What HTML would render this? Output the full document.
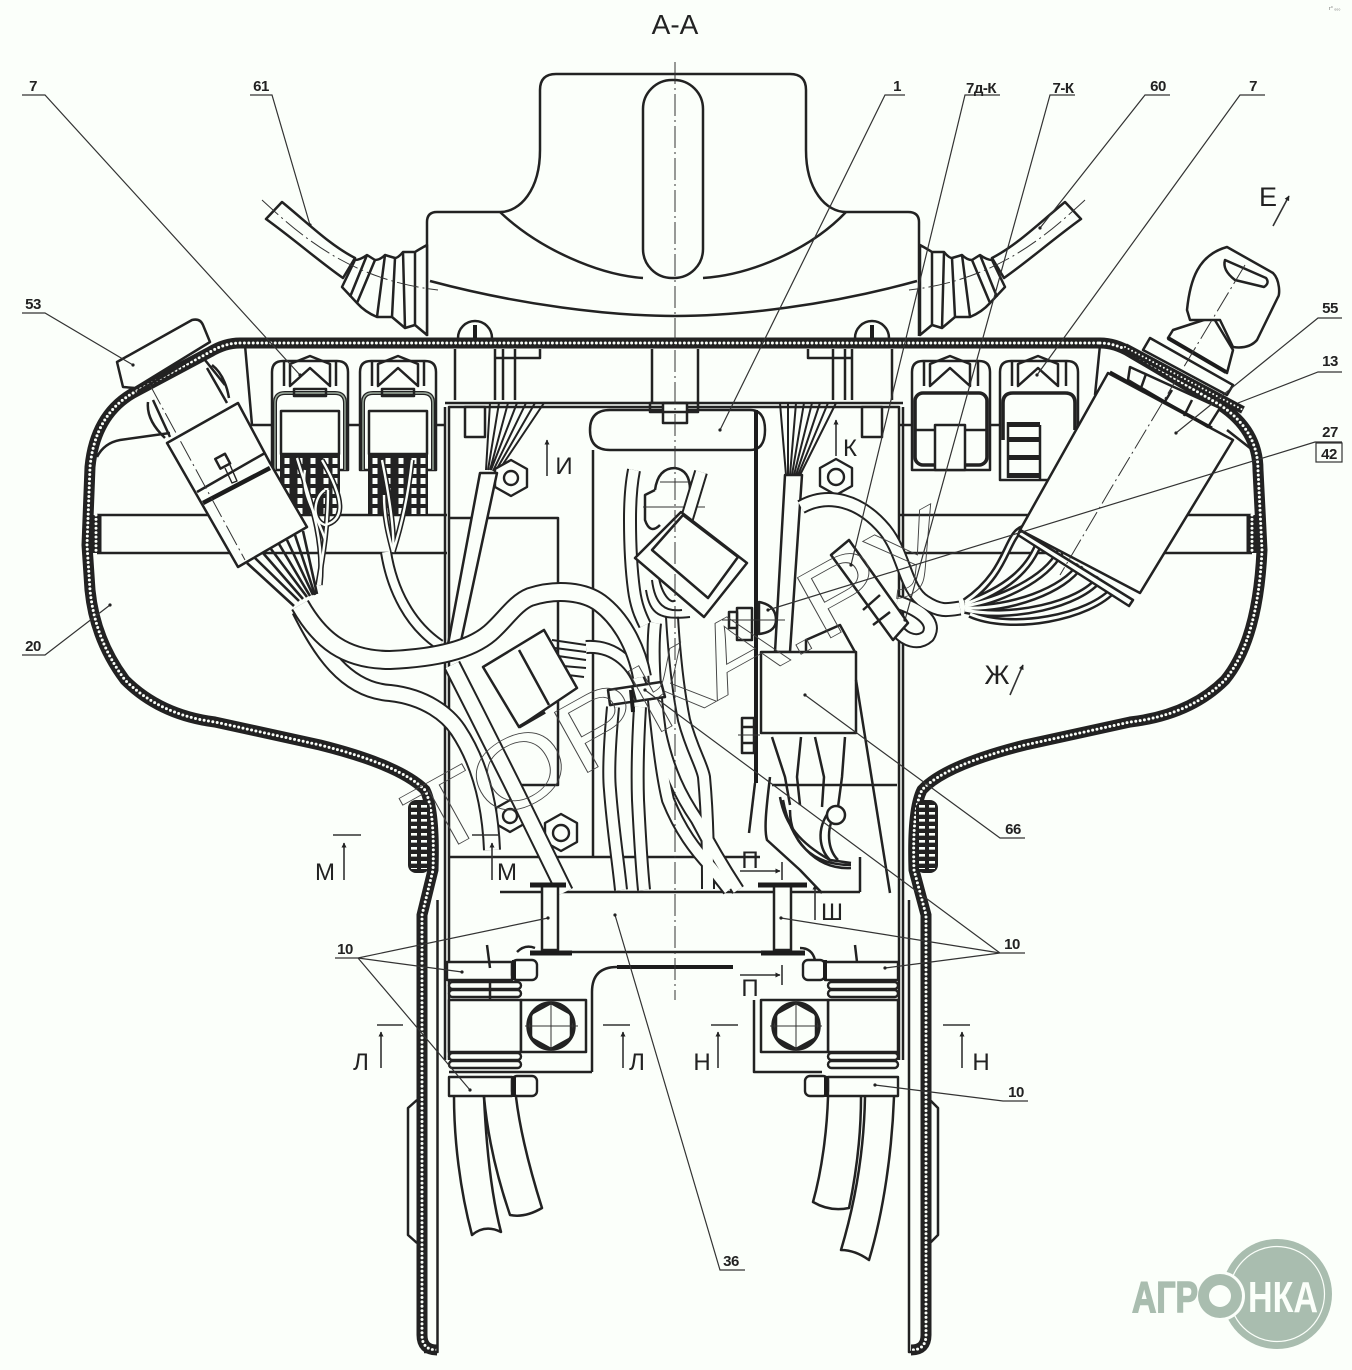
<!DOCTYPE html>
<html><head><meta charset="utf-8"><title>А-А</title>
<style>
html,body{margin:0;padding:0;background:#fbfffa}
svg{display:block}
.l{fill:none;stroke:#222;stroke-width:2.5;stroke-linejoin:round}
.f{fill:#fbfffa;stroke:#222;stroke-width:2.5;stroke-linejoin:round}
.t{fill:none;stroke:#333;stroke-width:1}
.c{fill:none;stroke:#333;stroke-width:1;stroke-dasharray:22 4 2 4}
.k{fill:none;stroke:#1c1c1c;stroke-width:4}
.b{fill:#222;stroke:none}
text{font-family:"Liberation Sans",sans-serif;fill:#222}
.n{font-size:15px;text-anchor:middle;font-weight:bold;letter-spacing:-.5px}
.s{font-size:27px;text-anchor:middle}
.w1{fill:none;stroke:#222;stroke-linecap:butt;stroke-linejoin:round}
.w2{fill:none;stroke:#fbfffa;stroke-linecap:butt;stroke-linejoin:round}
</style></head><body>
<svg xmlns="http://www.w3.org/2000/svg" width="1352" height="1370" viewBox="0 0 1352 1370">
<defs>
<marker id="ah" viewBox="0 0 10 10" refX="9" refY="5" markerWidth="9" markerHeight="5" orient="auto" markerUnits="userSpaceOnUse"><path d="M0,0 L10,5 L0,10 Z" fill="#222"/></marker>
<path id="housing" d="M240,343 L1100,343 M240,343 Q225,343 210,352 L133,393 Q95,415 90,467 L87,545 L90,590 Q95,640 125,680 Q160,715 215,722 L320,745 Q400,765 425,790 Q435,810 433,870 L422,915 L422,1335 Q422,1350 437,1350 M1100,343 Q1115,343 1130,352 L1220,405 Q1258,430 1258,470 L1262,550 Q1258,640 1225,680 Q1190,715 1130,722 L1025,745 Q945,765 922,790 Q912,810 914,870 L926,915 L926,1335 Q926,1350 911,1350"/>
<g id="bell">
<path class="f" d="M282,202 C310,225 330,245 355,258 L343,278 C320,262 295,240 266,219 Z"/>
<path class="f" d="M427,245 Q418,250 415,252 L403,252 Q398,258 395,258 L385,255 Q380,260 375,260 L367,255 Q360,260 355,260 L342,287 L357,303 Q365,312 377,317 L392,317 L405,328 L415,325 L427,335 Z"/>
<path class="l" d="M367,255 L350,297 M375,260 L357,303 M385,255 L377,317 M395,258 L392,317 M403,252 L405,328 M415,252 L415,325"/>
<path class="c" d="M262,200 C300,235 350,280 438,290"/>
</g>
<g id="conn">
<path class="f" d="M272,372 Q272,361 283,361 L337,361 Q348,361 348,372 L348,470 L272,470 Z"/>
<path class="l" d="M284,361 L284,386 M336,361 L336,386 M290,386 L290,364 L310,356 L330,364 L330,386 L310,368 Z"/>
<path d="M275,470 L275,403 Q275,393 285,393 L335,393 Q345,393 345,403 L345,470" fill="none" stroke="#222" stroke-width="4"/>
<path d="M275,470 L275,403 Q275,393 285,393 L335,393 Q345,393 345,403 L345,470" fill="none" stroke="#9fae9f" stroke-width="1.4"/>
<rect class="l" x="294" y="389" width="32" height="7" fill="#fbfffa"/>
<rect class="f" x="281" y="411" width="58" height="43"/>
<rect x="280" y="454" width="60" height="62" fill="#222"/>
<path stroke="#fbfffa" stroke-width="5" stroke-dasharray="6 4" d="M287,458V516M300,458V516M313,458V516M326,458V516M335,458V516" fill="none"/>
</g>
<path id="wa" d="M300,605 C320,640 345,660 390,660 C436,658 470,650 490,633 C505,620 515,603 530,597 C558,588 585,592 600,603 C620,618 636,645 642,677"/>
<g id="wb"><path d="M300,610 C320,650 345,690 390,693 C426,697 448,715 458,730 C478,760 490,800 492,850"/></g>
<g id="wc"><path d="M386,552 C392,590 410,625 440,645"/></g>
<g id="wd"><path d="M452,665 C470,700 500,760 510,780 C530,820 550,862 565,892"/></g>
<g id="we"><path d="M613,707 C610,740 608,770 610,790 C613,830 618,860 621,890"/><path d="M640,707 C638,740 637,770 638,800 C640,840 642,870 644,890"/><path d="M655,623 C652,650 654,690 660,733 C668,770 680,795 697,820 C710,845 725,870 738,890"/><path d="M654,700 C658,740 662,775 668,800 C680,830 695,850 711,867 L729,890"/><path d="M672,617 C674,650 678,690 684,720 C692,750 702,765 704,777 C708,820 708,860 708,889"/><path d="M634,470 C630,490 630,510 630,520 C630,550 632,575 634,590 C636,605 640,615 645,625"/><path d="M701,472 L685,525"/><path d="M586,647 C615,645 635,665 642,690"/></g>
<g id="wf"><path d="M801,507 C828,492 860,500 885,530 C905,555 905,590 925,602 C940,612 948,610 960,608"/><path d="M897,602 C915,608 938,620 928,636 C918,645 905,640 897,630"/></g>
<g id="wfan"><path d="M1027,528 C1005,530 1012,570 965,602"/><path d="M1040,540 C1030,570 1005,590 965,604"/><path d="M1060,552 C1045,580 1000,600 965,606"/><path d="M1080,565 C1065,590 1010,610 965,608"/><path d="M1100,578 C1080,605 1010,620 965,610"/><path d="M1115,588 C1090,618 1010,632 970,614"/></g>
</defs>
<rect width="1352" height="1370" fill="#fbfffa"/>

<!-- cap -->
<path class="l" d="M427,336 L427,222 Q427,212 437,212 L500,212 C520,212 540,190 540,150 L540,90 Q540,74 556,74 L790,74 Q806,74 806,90 L806,150 C806,190 826,212 846,212 L908,212 Q919,212 919,222 L919,336"/>
<path class="l" d="M500,212 C540,250 600,275 643,278 M846,212 C810,250 750,275 703,278"/>
<path class="l" d="M430,281 C520,305 610,316 675,316 C740,316 830,305 917,281"/>
<rect class="l" x="643" y="80" width="60" height="198" rx="29" fill="#fbfffa"/>
<use href="#bell"/>
<use href="#bell" transform="translate(1347,0) scale(-1,1)"/>

<!-- cross strips -->
<path class="l" d="M97,515 H447 M97,553 H447 M900,515 H1252 M900,553 H1252"/>
<path class="l" d="M97,457 Q104,443 120,440 L170,433"/>
<path class="l" d="M1227,430 L1250,448"/>
<path class="l" d="M245,345 L252,425 L272,425 M1100,345 L1095,395 M348,425 H360 M436,425 H446 M990,425 H1000 M900,425 H912"/>

<!-- housing -->
<use href="#housing" fill="none" stroke="#222" stroke-width="11"/>
<use href="#housing" fill="none" stroke="#fbfffa" stroke-width="3" stroke-linecap="round" stroke-dasharray="0 4.4"/>
<path d="M96,515 V553 M1252,515 V553" stroke="#222" stroke-width="11" fill="none"/>
<path d="M96,515 V553 M1252,515 V553" stroke="#fbfffa" stroke-width="3" stroke-linecap="round" stroke-dasharray="0 4.4" fill="none"/>
<path class="l" d="M437.5,900 V1352 L424,1352 M909,900 V1352 L920,1352"/>
<path class="l" d="M417,1100 L408,1108 V1235 L417,1243 M930,1100 L938,1108 V1235 L930,1243"/>

<!-- inner box -->
<path class="l" d="M449,1060 V407 H899 V1060" stroke-width="2"/>
<path class="l" d="M445,407 V1060 M903,407 V1060 M445,403 H903"/>
<path class="l" d="M449,518 H558 V785 H505 M772,785 H897"/>
<path class="l" d="M593,450 V857 M590,430 Q590,410 610,410 H750 Q765,410 765,430 Q765,450 750,450 H610 Q590,450 590,430"/>
<path class="k" d="M756,410 V783"/>
<path class="l" d="M755,783 L749,833" />
<path class="l" d="M449,857 H760 M500,892 H860 M860,857 V892"/>

<!-- top mounts -->
<path class="l" d="M455,349 V400 M495,349 V400 M503,349 V400 M515,349 V400 M495,358 H540 V349 M652,349 V403 M698,349 V403 M852,349 V400 M892,349 V400 M845,349 V400 M833,349 V400 M852,358 H808 V349"/>
<path class="l" d="M458,338 A17,17 0 0 1 492,338 M855,338 A17,17 0 0 1 889,338"/>
<path class="k" d="M475,325 V338 M872,325 V338"/>
<rect class="f" x="465" y="407" width="20" height="30"/>
<rect class="f" x="663" y="403" width="24" height="20"/>
<rect class="f" x="862" y="407" width="20" height="30"/>
<rect class="l" x="650" y="403" width="48" height="9"/>

<!-- fans -->
<g class="l" style="stroke-width:2">
<path d="M544,403 L497,473 M535,403 L495,472 M526,403 L493,471 M517,403 L491,470 M508,403 L490,470 M499,403 L488,470 M490,403 L486,470"/>
<path d="M836,403 L800,475 M828,403 L798,475 M820,403 L796,475 M812,403 L794,475 M804,403 L792,475 M796,403 L790,475 M788,403 L788,475 M780,403 L786,475"/>
</g>

<!-- nuts -->
<g class="f" style="stroke-width:2.4">
<polygon points="511,460 527,469 527,487 511,496 495,487 495,469"/><circle cx="511" cy="478" r="7"/>
<polygon points="836,459 852,468 852,486 836,495 820,486 820,468"/><circle cx="836" cy="477" r="8"/>
<polygon points="510,800 524,808 524,824 510,832 496,824 496,808"/><circle cx="510" cy="816" r="7"/>
<polygon points="561,814 577,823 577,842 561,851 545,842 545,823"/><circle cx="561" cy="833" r="8"/>
</g>

<!-- keyhole -->
<path class="l" d="M655,490 Q658,468 675,468 Q690,470 690,490 L690,525 M655,490 L645,495 V520 Q650,535 660,525"/>
<path class="t" d="M643,507 H705 M660,482 H692"/>

<!-- wires -->
<use href="#wfan" class="w1" stroke-width="8"/>
<use href="#wfan" class="w2" stroke-width="3"/>
<path class="f" d="M785,475 L802,475 L790,652 L775,652 Z"/>
<path class="l" d="M770,777 C766,810 764,830 767,840 L800,870 L822,893 M780,797 C785,825 800,843 830,860 L851,863"/>
<use href="#wf" class="w1" stroke-width="15"/>
<use href="#wf" class="w2" stroke-width="11"/>
<use href="#we" class="w1" stroke-width="14"/>
<use href="#we" class="w2" stroke-width="10"/>
<path class="f" d="M480,473 L497,473 L458,655 L446,655 Z"/>
<use href="#wd" class="w1" stroke-width="18"/>
<use href="#wd" class="w2" stroke-width="14"/>
<use href="#wc" class="w1" stroke-width="12"/>
<use href="#wc" class="w2" stroke-width="8"/>
<use href="#wb" class="w1" stroke-width="18"/>
<use href="#wb" class="w2" stroke-width="14"/>
<use href="#wa" class="w1" stroke-width="20"/>
<use href="#wa" class="w2" stroke-width="16"/>

<!-- connectors -->
<use href="#conn"/>
<use href="#conn" x="88"/>
<g transform="translate(640,0)">
<path class="f" d="M272,372 Q272,361 283,361 L339,361 Q350,361 350,372 L350,470 L272,470 Z"/>
<path class="l" d="M284,361 L284,386 M338,361 L338,386 M290,386 L290,364 L310,356 L330,364 L330,386 L310,368 Z"/>
<rect x="275" y="393" width="72" height="72" rx="8" fill="none" stroke="#222" stroke-width="3.6"/>
<rect class="f" x="295" y="425" width="30" height="45"/>
<path class="l" d="M275,430 H295 M325,430 H347"/>
</g>
<g transform="translate(728,0)">
<path class="f" d="M272,372 Q272,361 283,361 L339,361 Q350,361 350,372 L350,440 L320,480 L272,480 Z"/>
<path class="l" d="M284,361 L284,386 M338,361 L338,386 M290,386 L290,364 L310,356 L330,364 L330,386 L310,368 Z"/>
<path d="M275,440 V403 Q275,393 285,393 L337,393 Q347,393 347,403 V430" fill="none" stroke="#222" stroke-width="3.6"/>
<rect x="280" y="422" width="32" height="5" fill="#222"/><rect x="280" y="437" width="32" height="5" fill="#222"/><rect x="280" y="455" width="32" height="5" fill="#222"/><rect x="280" y="473" width="32" height="5" fill="#222"/>
<path class="l" d="M312,425 V480 M280,422 V478"/>
</g>

<!-- wires from connectors left -->
<g fill="none" stroke="#222" stroke-width="5.5"><path d="M297,458 C310,500 325,540 320,585"/><path d="M322,460 C345,500 345,520 325,525 C310,520 315,495 325,490"/><path d="M328,490 C328,530 322,560 318,585"/><path d="M305,470 C300,495 320,520 325,540"/><path d="M382,460 C388,490 395,530 393,552"/><path d="M412,460 C408,500 400,530 393,552"/><path d="M384,495 C384,520 390,540 393,552"/></g>
<g fill="none" stroke="#fbfffa" stroke-width="2.4"><path d="M297,458 C310,500 325,540 320,585"/><path d="M322,460 C345,500 345,520 325,525 C310,520 315,495 325,490"/><path d="M328,490 C328,530 322,560 318,585"/><path d="M305,470 C300,495 320,520 325,540"/><path d="M382,460 C388,490 395,530 393,552"/><path d="M412,460 C408,500 400,530 393,552"/><path d="M384,495 C384,520 390,540 393,552"/></g>
<g class="l" style="stroke-width:2.6"><path d="M247,563 L294,606 M255,558 L299,601 M263,553 L303,599 M271,549 L307,597 M279,544 L310,596 M287,540 L313,595 M295,535 L315,595 M303,531 L317,594"/></g>

<!-- left switch -->
<path class="l" d="M153,400 L170,437 M207,368 L227,403"/>
<path class="l" d="M148,402 Q146,420 165,438 M212,365 Q225,375 229,398 M205,360 L225,385"/>
<path class="f" d="M117,362 L192,320 Q200,318 203,325 L210,342 L135,388 L123,387 Z"/>
<path class="l" d="M137,392 L212,347"/>
<path class="f" d="M167,443 L238,403 L270,463 L307,527 L238,567 Z"/>
<path class="l" d="M197,492 L265,453"/>
<path class="k" d="M203,503 L270,468" style="stroke-width:4.5"/>
<rect class="l" x="217" y="456" width="11" height="11" transform="rotate(-28 222 461)"/>
<path class="l" d="M225,468 L232,483 L237,481 L230,465" style="stroke-width:1.4"/>
<path class="c" d="M150,385 L245,560"/>

<!-- right switch -->
<path class="f" d="M1108,373 L1233,440 L1140,593 L1020,530 Z"/>
<path class="f" d="M1020,530 L1133,600 L1129,606 L1018,535 Z"/>
<path class="f" d="M1130,367 L1128,380 L1208,427 L1220,408 Z"/>
<path class="l" d="M1146,374 L1141,388 M1172,390 L1164,403 M1192,400 L1184,416" />
<path class="k" d="M1110,372 L1212,428" style="stroke-width:3"/>
<path d="M1125,347 L1243,410" stroke="#222" stroke-width="8" fill="none"/>
<path d="M1125,347 L1243,410" stroke="#fbfffa" stroke-width="2" stroke-linecap="round" stroke-dasharray="0 4" fill="none"/>
<path class="f" d="M1150,338 L1233,385 L1227,395 L1143,350 Z"/>
<path class="f" d="M1173,330 L1213,317 L1233,350 L1227,373 L1168,338 Z"/>
<path class="k" d="M1168,338 L1226,372"/>
<path class="f" d="M1187,310 C1190,280 1198,255 1227,247 L1273,273 C1280,280 1280,295 1278,297 L1257,340 C1250,348 1240,348 1233,347 L1220,320 L1190,320 Z"/>
<path class="l" d="M1225,260 L1266,278 Q1270,283 1264,287 L1235,280 Q1222,270 1225,260 Z"/>
<path class="c" d="M1245,265 L1110,490 L1060,575"/>

<!-- small connector right -->
<path class="f" d="M831,555 L849,540 L908,623 L893,640 Z"/>
<path class="l" d="M880,595 L863,610 M890,612 L873,625"/>

<!-- connector 2 -->
<g class="l" style="stroke-width:2"><path d="M646,590 C650,615 660,620 690,617 M652,580 C655,605 665,612 682,610 M658,570 C660,595 672,605 675,600"/></g>
<path class="f" d="M635,558 L681,512 L747,563 L704,617 Z"/>
<path class="l" d="M652,550 L683,515 L738,557 L708,598 Z"/>
<!-- connector 1 -->
<g class="l" style="stroke-width:2"><path d="M552,640 L586,645 M555,648 L586,652 M558,656 L586,660 M563,666 L586,668 M568,675 L584,677"/></g>
<path class="f" d="M483,667 L544,630 L577,688 L519,727 Z"/>
<path class="l" d="M519,650 L549,705"/>
<path d="M519,727 L545,712" stroke="#222" stroke-width="3.5"/>
<!-- clip -->
<path class="f" d="M608,690 L661,682 L665,697 L610,705 Z"/>
<path class="l" d="M632,686 L636,702"/>
<path class="k" d="M631,690 L633,712"/>

<!-- relay -->
<path class="f" d="M761,652 H856 V733 H761 Z"/>
<path class="l" d="M806,652 L806,640 L840,625 L855,652"/>
<path class="l" d="M772,737 L785,777 L790,805 M801,737 L797,777 L800,805 M815,737 L824,777 L822,807 M845,737 L842,777 L838,807"/>
<path class="l" d="M856,680 L890,893"/>
<path class="l" d="M790,810 C790,840 810,865 851,865 M783,800 C790,840 815,870 851,868 M830,810 C815,830 820,850 830,860 M836,812 C825,830 828,850 838,860"/>
<circle class="f" cx="836" cy="815" r="9"/>

<!-- bolts on plate -->
<path class="f" d="M737,608 H752 V640 H737 Z"/>
<path class="f" d="M729,612 H737 V628 H729 Z"/>
<path class="f" d="M759,602 Q776,605 776,620 Q776,632 759,634 Z"/>
<path class="f" d="M742,718 H754 V753 H742 Z"/>
<path class="l" d="M742,727 H754 M742,743 H754"/>
<path class="t" d="M722,620 H785 M738,735 H760"/>

<!-- knobs -->
<g id="kn"><rect x="408" y="800" width="22" height="73" rx="8" fill="#222"/><path stroke="#fbfffa" stroke-width="6" stroke-dasharray="2.6 4.4" d="M414,805V869M424,805V869" fill="none"/></g>
<use href="#kn" transform="translate(1346,0) scale(-1,1)"/>

<!-- bottom bracket -->
<path class="l" d="M560,952 H775 M592,1072 V992 Q592,967 617,967 H620"/>
<path class="k" d="M617,967 H733"/>
<path class="l" d="M754,1000 V1072 H822 M449,1072 H592"/>
<path class="f" d="M542,885 H558 V950 H542 Z"/>
<path class="f" d="M774,885 H791 V950 H774 Z"/>
<path class="k" d="M530,885 H566 M758,885 H807 M530,953 H572 M761,953 H805" style="stroke-width:5"/>
<path class="l" d="M517,952 Q525,944 535,948 M815,960 Q812,948 800,948"/>
<path class="f" d="M449,1000 H521 V1052 H449 Z"/><rect class="f" x="521" y="1000" width="65" height="52"/>
<path class="f" d="M828,1000 H898 V1052 H828 Z"/><rect class="f" x="761" y="1000" width="67" height="52"/>
<circle cx="551" cy="1026" r="23" fill="none" stroke="#222" stroke-width="3.5"/>
<circle cx="796" cy="1026" r="23" fill="none" stroke="#222" stroke-width="3.5"/>
<polygon class="l" points="551,1003 571,1014 571,1038 551,1049 531,1038 531,1014"/>
<polygon class="l" points="796,1003 816,1014 816,1038 796,1049 776,1038 776,1014"/>
<path class="t" d="M525,1026 H578 M551,1000 V1052 M770,1026 H822 M796,1000 V1052"/>
<g class="f" style="stroke-width:2.4">
<rect x="449" y="982" width="72" height="7" rx="3.5"/><rect x="449" y="990" width="72" height="7" rx="3.5"/>
<rect x="449" y="1053" width="72" height="7" rx="3.5"/><rect x="449" y="1061" width="72" height="7" rx="3.5"/>
<rect x="828" y="982" width="70" height="7" rx="3.5"/><rect x="828" y="990" width="70" height="7" rx="3.5"/>
<rect x="828" y="1053" width="70" height="7" rx="3.5"/><rect x="828" y="1061" width="70" height="7" rx="3.5"/>
<rect x="447" y="962" width="65" height="18"/><rect x="512" y="960" width="25" height="20" rx="5"/>
<rect x="825" y="962" width="73" height="18"/><rect x="803" y="960" width="22" height="20" rx="5"/>
<rect x="449" y="1077" width="63" height="19"/><rect x="512" y="1076" width="25" height="20" rx="5"/>
<rect x="828" y="1077" width="70" height="19"/><rect x="805" y="1076" width="23" height="20" rx="5"/>
</g>
<path class="l" d="M490,968 L487,945 M857,962 L855,945 M490,1000 V982"/>
<path class="k" d="M514,960 V980 M514,1076 V1097 M825,960 V980 M826,1076 V1097" style="stroke-width:4"/>

<!-- lower cables -->
<path class="l" d="M454,1096 C454,1140 460,1190 472,1235 Q485,1224 501,1232 C490,1190 486,1140 484,1097"/>
<path class="l" d="M484,1097 C488,1140 498,1180 510,1215 Q525,1218 542,1208 C530,1170 520,1130 516,1097"/>
<path class="l" d="M828,1097 C827,1130 822,1170 813,1202 Q830,1212 849,1208 C857,1170 861,1130 861,1097"/>
<path class="l" d="M865,1097 C864,1150 856,1200 841,1250 Q855,1250 869,1260 C884,1210 892,1150 894,1097"/>

<!-- centerline -->
<path class="c" d="M675,62 V1000"/>

<!-- watermark -->
<text transform="translate(430,860) rotate(-29)" font-size="100" textLength="610" lengthAdjust="spacingAndGlyphs" style="fill:none;stroke:#444;stroke-width:.8">ТОРКА.РУ</text>

<!-- leaders -->
<g class="t" style="stroke-width:1.2">
<path d="M22,95 H45 L300,375"/>
<path d="M250,95 H272 L310,225"/>
<path d="M905,95 H885 L720,430"/>
<path d="M1000,95 H965 L851,565"/>
<path d="M1075,95 H1050 L905,620"/>
<path d="M1170,95 H1145 L1040,228"/>
<path d="M1265,95 H1240 L1037,375"/>
<path d="M22,313 H45 L133,365"/>
<path d="M1342,318 H1318 L1176,433"/>
<path d="M1342,372 H1318 L1238,403"/>
<path d="M1342,442 H1315 L768,610"/>
<path d="M22,655 H45 L110,605"/>
<path d="M1025,838 H1000 L805,695"/>
<path d="M1025,953 H1000 L781,918 M1000,953 L885,968 M1000,953 L645,690"/>
<path d="M335,958 H358 L548,918 M358,958 L462,972 M358,958 L470,1090"/>
<path d="M1028,1101 H1003 L875,1085"/>
<path d="M745,1270 H720 L615,915"/>
</g>
<g fill="#222"><circle cx="300" cy="375" r="1.6"/><circle cx="310" cy="225" r="1.6"/><circle cx="720" cy="430" r="1.6"/><circle cx="851" cy="565" r="1.6"/><circle cx="905" cy="620" r="1.6"/><circle cx="1040" cy="228" r="1.6"/><circle cx="1037" cy="375" r="1.6"/><circle cx="133" cy="365" r="1.6"/><circle cx="1176" cy="433" r="1.6"/><circle cx="768" cy="610" r="1.6"/><circle cx="110" cy="605" r="1.6"/><circle cx="805" cy="695" r="1.6"/><circle cx="781" cy="918" r="1.6"/><circle cx="885" cy="968" r="1.6"/><circle cx="645" cy="690" r="1.6"/><circle cx="548" cy="918" r="1.6"/><circle cx="462" cy="972" r="1.6"/><circle cx="470" cy="1090" r="1.6"/><circle cx="875" cy="1085" r="1.6"/><circle cx="615" cy="915" r="1.6"/></g>
<rect x="1316" y="443" width="26" height="19" fill="none" stroke="#333" stroke-width="1.2"/>

<!-- labels -->
<text class="n" x="33" y="91">7</text>
<text class="n" x="261" y="91">61</text>
<text class="n" x="897" y="91">1</text>
<text class="n" x="981" y="93">7д-К</text>
<text class="n" x="1063" y="93">7-К</text>
<text class="n" x="1158" y="91">60</text>
<text class="n" x="1253" y="91">7</text>
<text class="n" x="33" y="309">53</text>
<text class="n" x="1330" y="313">55</text>
<text class="n" x="1330" y="366">13</text>
<text class="n" x="1330" y="437">27</text>
<text class="n" x="1329" y="459">42</text>
<text class="n" x="33" y="651">20</text>
<text class="n" x="1013" y="834">66</text>
<text class="n" x="1012" y="949">10</text>
<text class="n" x="345" y="954">10</text>
<text class="n" x="1016" y="1097">10</text>
<text class="n" x="731" y="1266">36</text>

<text class="s" x="675" y="34" style="font-size:28px">А-А</text>
<g class="t" style="stroke-width:1.6">
<path d="M1273,226 L1289,196" marker-end="url(#ah)"/>
<path d="M1010,695 L1023,665" marker-end="url(#ah)"/>
<path d="M547,476 V440" marker-end="url(#ah)"/>
<path d="M836,456 V420" marker-end="url(#ah)"/>
<path d="M344,880 V843" marker-end="url(#ah)"/><path d="M333,835 H361"/>
<path d="M492,880 V843" marker-end="url(#ah)"/><path d="M472,835 H500"/>
<path d="M381,1068 V1032" marker-end="url(#ah)"/><path d="M377,1025 H403"/>
<path d="M623,1068 V1032" marker-end="url(#ah)"/><path d="M603,1025 H630"/>
<path d="M718,1068 V1032" marker-end="url(#ah)"/><path d="M711,1025 H738"/>
<path d="M962,1068 V1032" marker-end="url(#ah)"/><path d="M943,1025 H970"/>
<path d="M740,871 H780" marker-end="url(#ah)"/><path d="M782,862 V880"/>
<path d="M740,975 H780" marker-end="url(#ah)"/><path d="M782,965 V985"/>
<path d="M815,920 V885" marker-end="url(#ah)"/>
</g>
<text class="s" x="1268" y="206">Е</text>
<text class="s" x="997" y="684">Ж</text>
<text class="s" x="564" y="474" style="font-size:24px">И</text>
<text class="s" x="850" y="456" style="font-size:24px">К</text>
<text class="s" x="325" y="880" style="font-size:24px">М</text>
<text class="s" x="507" y="880" style="font-size:24px">М</text>
<text class="s" x="361" y="1070" style="font-size:24px">Л</text>
<text class="s" x="637" y="1070" style="font-size:24px">Л</text>
<text class="s" x="702" y="1070" style="font-size:24px">Н</text>
<text class="s" x="981" y="1070" style="font-size:24px">Н</text>
<text class="s" x="750" y="868" style="font-size:24px">П</text>
<text class="s" x="750" y="996" style="font-size:24px">П</text>
<text class="s" x="832" y="920" style="font-size:24px">Ш</text>

<!-- logo -->
<circle cx="1277" cy="1294" r="55" fill="#a9bdaf"/>
<circle cx="1277" cy="1294" r="47.5" fill="none" stroke="#fbfffa" stroke-width="1.2"/>
<circle cx="1220" cy="1296" r="25" fill="#fbfffa"/>
<text x="1132" y="1312" font-size="44" font-weight="bold" textLength="66" lengthAdjust="spacingAndGlyphs" style="fill:#a9bdaf;stroke:#a9bdaf;stroke-width:1.5">АГР</text>
<circle cx="1220" cy="1296" r="22" fill="#a9bdaf"/>
<circle cx="1220" cy="1296" r="11" fill="#fbfffa"/>
<text x="1248" y="1312" font-size="44" font-weight="bold" textLength="70" lengthAdjust="spacingAndGlyphs" style="fill:#fbfffa">НКА</text>
<text x="1329" y="10" font-size="5" style="fill:#666">г° ₀₀₀</text>
</svg>
</body></html>
